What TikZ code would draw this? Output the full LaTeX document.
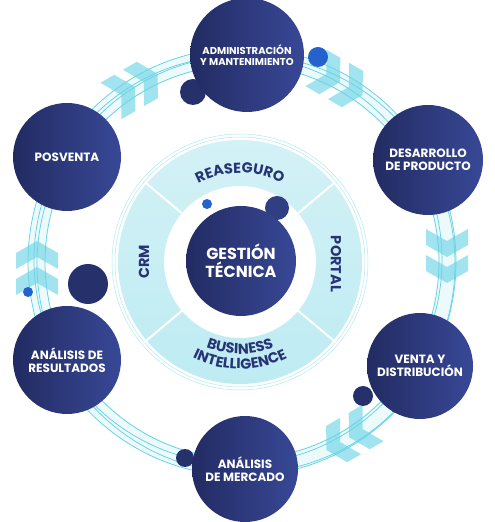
\documentclass[tikz,border=0pt]{standalone}
\usepackage{fontspec}
\setmainfont{Poppins}
\usetikzlibrary{decorations.text}
\definecolor{navyA}{RGB}{34,43,98}
\definecolor{navyB}{RGB}{56,72,150}
\definecolor{ringfill}{RGB}{200,238,244}
\definecolor{ringtext}{RGB}{38,52,118}
\definecolor{dotblue}{RGB}{38,98,205}
\definecolor{orbit}{RGB}{100,210,228}
\definecolor{chev}{RGB}{110,212,230}
\newcommand\ringfont{\color{ringtext}\bfseries\fontsize{14.5}{14.5}\selectfont}
\tikzset{
  stage/.style={circle,left color=navyA,right color=navyB,text=white,align=center,inner sep=0pt,
    font=\bfseries\fontsize{12}{12.5}\selectfont},
  bump/.style={fill=navyA!80!navyB},
  bluedot/.style={fill=dotblue},
  ringlabel/.style={text=ringtext,font=\bfseries\fontsize{14.5}{14.5}\selectfont},
  chevron/.style={fill=chev,fill opacity=0.65},
  orbitline/.style={draw=orbit,line width=0.75pt}
}
\begin{document}
\begin{tikzpicture}[x=1pt,y=1pt]
\useasboundingbox (0,0) rectangle (495,522);
\fill[orbit!12,even odd rule] (242,260) circle (214) circle (196);
\draw[orbitline] (242,260) circle (197);
\draw[orbitline] (238,262) circle (204);
\draw[orbitline] (246,258) circle (209);
\draw[orbitline] (242,260) circle (214);
\foreach \a in {120,60,0,-60,180}{
  \begin{scope}[shift={(242,260)},rotate=\a]
    \foreach \s in {13,-13}
      \fill[chevron] (184,\s+4) -- (205,\s-8) -- (226,\s+4) -- (226,\s+20) -- (205,\s+8) -- (184,\s+20) -- cycle;
  \end{scope}
}
\draw[orbit!50,line width=0.5pt] (240,260) circle (125) circle (128);
\shade[top color=ringfill!80,bottom color=ringfill!90!orbit,even odd rule] (240,260) circle (122) circle (76);
\foreach \a in {40,140,220,320}
  \draw[white,line width=2pt] (240,260) ++(\a:75) -- ++(\a:48);
\path[decorate,decoration={text along path,text align=center,text={|\ringfont|REASEGURO}}]
  (240,260) ++(140:89) arc[start angle=140,end angle=40,radius=89];
\path[decorate,decoration={text along path,text align=center,text={|\ringfont|BUSINESS}}]
  (240,260) ++(210:92) arc[start angle=210,end angle=330,radius=92];
\path[decorate,decoration={text along path,text align=center,text={|\ringfont|INTELLIGENCE}}]
  (240,260) ++(205:107) arc[start angle=205,end angle=335,radius=107];
\node[ringlabel,rotate=90] (crm) at (144,260) {CRM};
\node[ringlabel,rotate=-90] (portal) at (336,258) {PORTAL};
\fill[bump,fill=navyA!35!navyB] (277,314) circle (12);
\node[stage,minimum size=110pt,font=\bfseries\fontsize{16}{18}\selectfont] (gestion) at (241,261) {GESTIÓN\\TÉCNICA};
\fill[bluedot] (207,318) circle (5);
\fill[bump] (193,430) circle (13);
\fill[bump] (88,238) circle (20);
\fill[bump] (363,126) circle (10);
\fill[bump] (396,114) circle (5);
\fill[bump] (185,64) circle (9);
\node[stage,minimum size=114pt,font=\bfseries\fontsize{10}{11}\selectfont] (admin) at (247,467) {ADMINISTRACIÓN\\Y MANTENIMIENTO};
\node[stage,minimum size=110pt] (desarrollo) at (428,362) {DESARROLLO\\DE PRODUCTO};
\node[stage,minimum size=106pt] (venta) at (420,156) {VENTA Y\\DISTRIBUCIÓN};
\node[stage,minimum size=106pt] (mercado) at (245,53) {ANÁLISIS\\DE MERCADO};
\node[stage,minimum size=108pt] (resultados) at (67,162) {ANÁLISIS DE\\RESULTADOS};
\node[stage,minimum size=108pt] (posventa) at (67,365) {POSVENTA};
\fill[bluedot] (318,465) circle (10);
\fill[bluedot] (28,230) circle (5);
\end{tikzpicture}
\end{document}
